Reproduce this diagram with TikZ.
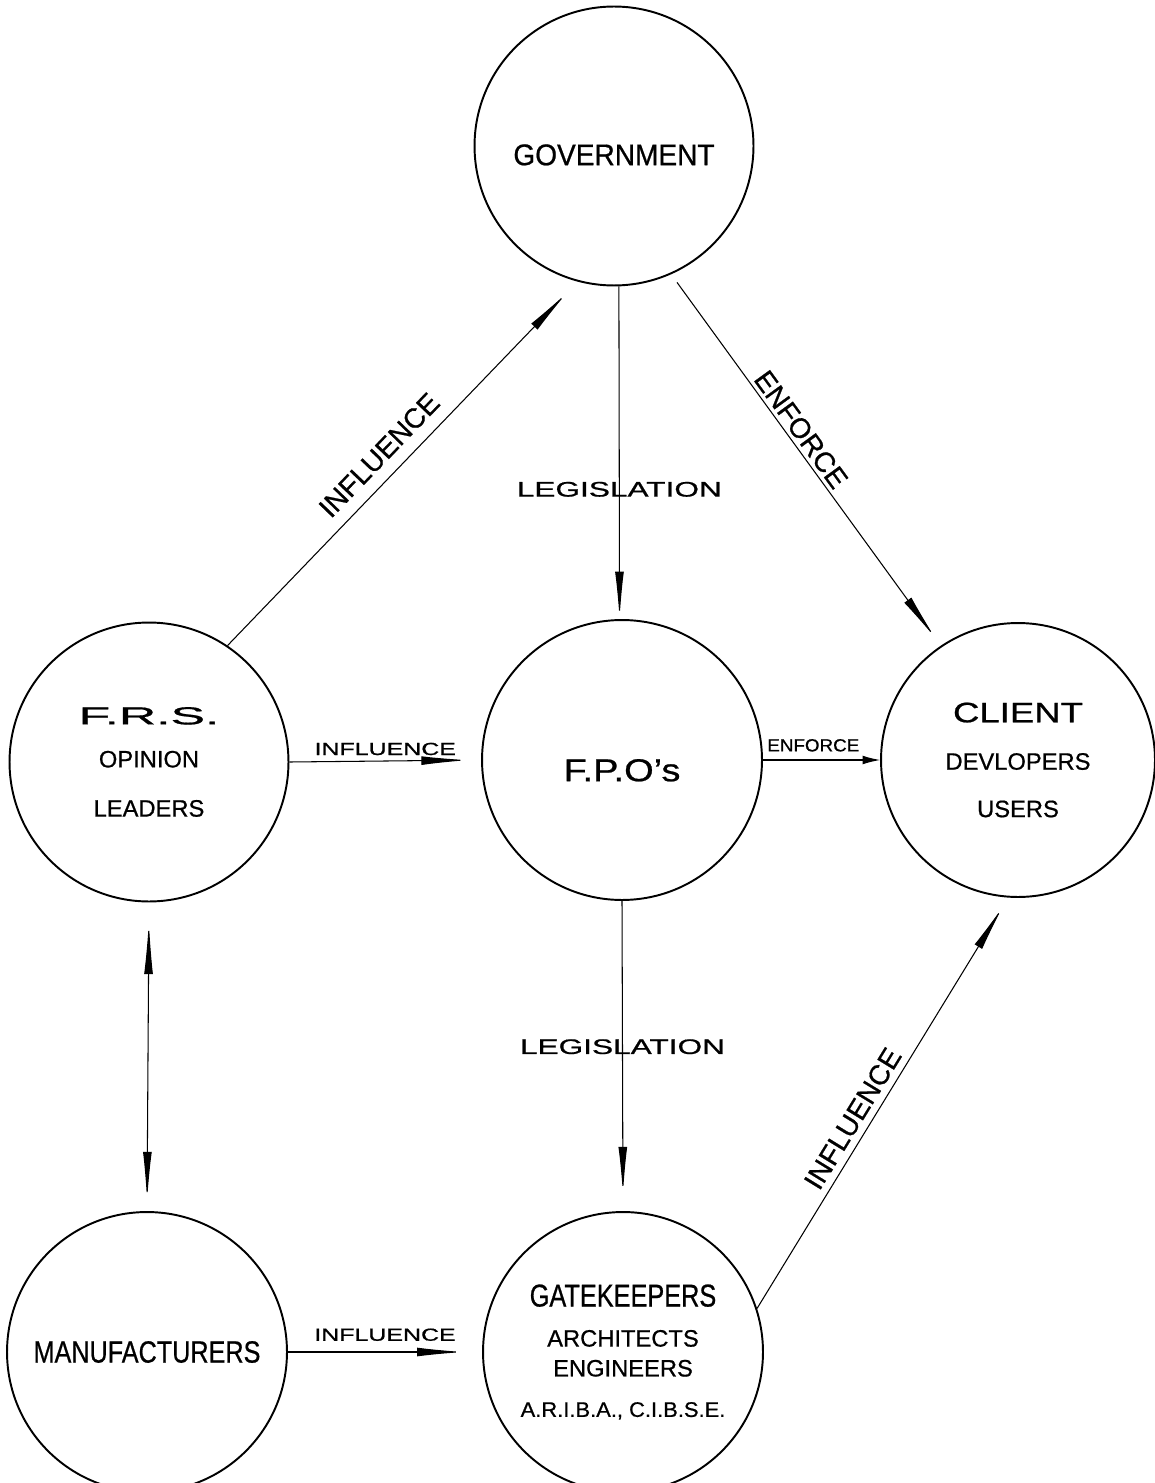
\documentclass[tikz,border=0pt]{standalone}
\usepackage{fontspec}
\setmainfont{Liberation Sans}[UprightFeatures={FakeBold=0.7}]
\usepackage{graphicx}
\usetikzlibrary{arrows.meta}

\newcommand{\stretchx}[2]{\scalebox{#1}[1]{#2}}

\begin{document}
\begin{tikzpicture}[x=0.02cm, y=-0.02cm,
    hub/.style={draw, circle, line width=1.1pt, minimum size=5.58cm, inner sep=0pt,
                align=center, font=\fontsize{13.5}{16}\selectfont},
    link/.style={line width=0.6pt, -{Latex[length=27pt,width=5pt]}},
    tag/.style={font=\fontsize{16}{19}\selectfont, inner sep=2pt},
    small/.style={font=\fontsize{10}{12}\selectfont, inner sep=3pt}]
    \useasboundingbox (0,0) rectangle (1154,1483);

    % the six parties
    \node[hub] (gov) at (614,146) {\fontsize{17}{20}\selectfont\rule{0pt}{22pt}\stretchx{0.94}{GOVERNMENT}};
    \node[hub] (frs) at (149,762) {{\fontsize{14}{16}\selectfont\stretchx{2.1}{F.R.S.}}\\[8.5pt]
                                   OPINION\\[12pt] LEADERS};
    \node[hub, minimum size=5.6cm] (fpo) at (622,760) {\fontsize{18}{20}\selectfont\rule{0pt}{24.3pt}\stretchx{1.2}{F.P.O's}};
    \node[hub, minimum size=5.48cm] (client) at (1018,760) {{\fontsize{16}{18}\selectfont\stretchx{1.3}{CLIENT}}\\[11pt]
                                   DEVLOPERS\\[11pt] USERS};
    \node[hub, minimum size=5.6cm] (manuf) at (147,1352) {\fontsize{17.5}{20}\selectfont\stretchx{0.82}{MANUFACTURERS}};
    \node[hub, minimum size=5.6cm] (gate) at (623,1352) {{\fontsize{18}{20}\selectfont\stretchx{0.8}{GATEKEEPERS}}\\[6.8pt]
                                   ARCHITECTS\\[1pt] ENGINEERS\\[7pt]
                                   {\fontsize{12}{14}\selectfont\stretchx{1.04}{A.R.I.B.A., C.I.B.S.E.}}};

    % connections
    \draw[link, shorten >=8.5pt] (frs.56) -- (gov.255)
        node[tag, pos=0.48, sloped, above=5pt] {INFLUENCE};
    \draw[link] (gov.-88) -- (fpo.91)
        node[pos=0.61, font=\fontsize{12}{14}\selectfont] {\stretchx{1.5}{LEGISLATION}};
    \draw[link, shorten <=5.7pt, shorten >=5pt] (gov.-66) -- (client.124)
        node[tag, pos=0.44, sloped, above=0pt] {ENFORCE};
    \draw[link, shorten >=7pt] (frs.east) -- (fpo.west)
        node[small, midway, above] {\stretchx{1.42}{INFLUENCE}};
    \draw[line width=0.6pt, -{Latex[length=10pt,width=5pt]}] (fpo.east) -- (client.west)
        node[small, pos=0.43, above=1.5pt] {\stretchx{1.07}{ENFORCE}};
    \draw[link, shorten >=9.5pt] (fpo.south) -- (gate.north)
        node[pos=0.47, font=\fontsize{12}{14}\selectfont] {\stretchx{1.5}{LEGISLATION}};
    \draw[link, shorten >=5.7pt] (gate.18) -- (client.-94)
        node[tag, pos=0.44, sloped, above=2pt] {INFLUENCE};
    \draw[link, shorten >=10pt] (manuf.east) -- (gate.west)
        node[small, midway, above=3pt] {\stretchx{1.42}{INFLUENCE}};
    \draw[line width=0.6pt, {Latex[length=30pt,width=5pt]}-{Latex[length=28pt,width=5pt]},
          shorten <=10.8pt, shorten >=5.7pt] (frs.south) -- (manuf.north);
\end{tikzpicture}
\end{document}
